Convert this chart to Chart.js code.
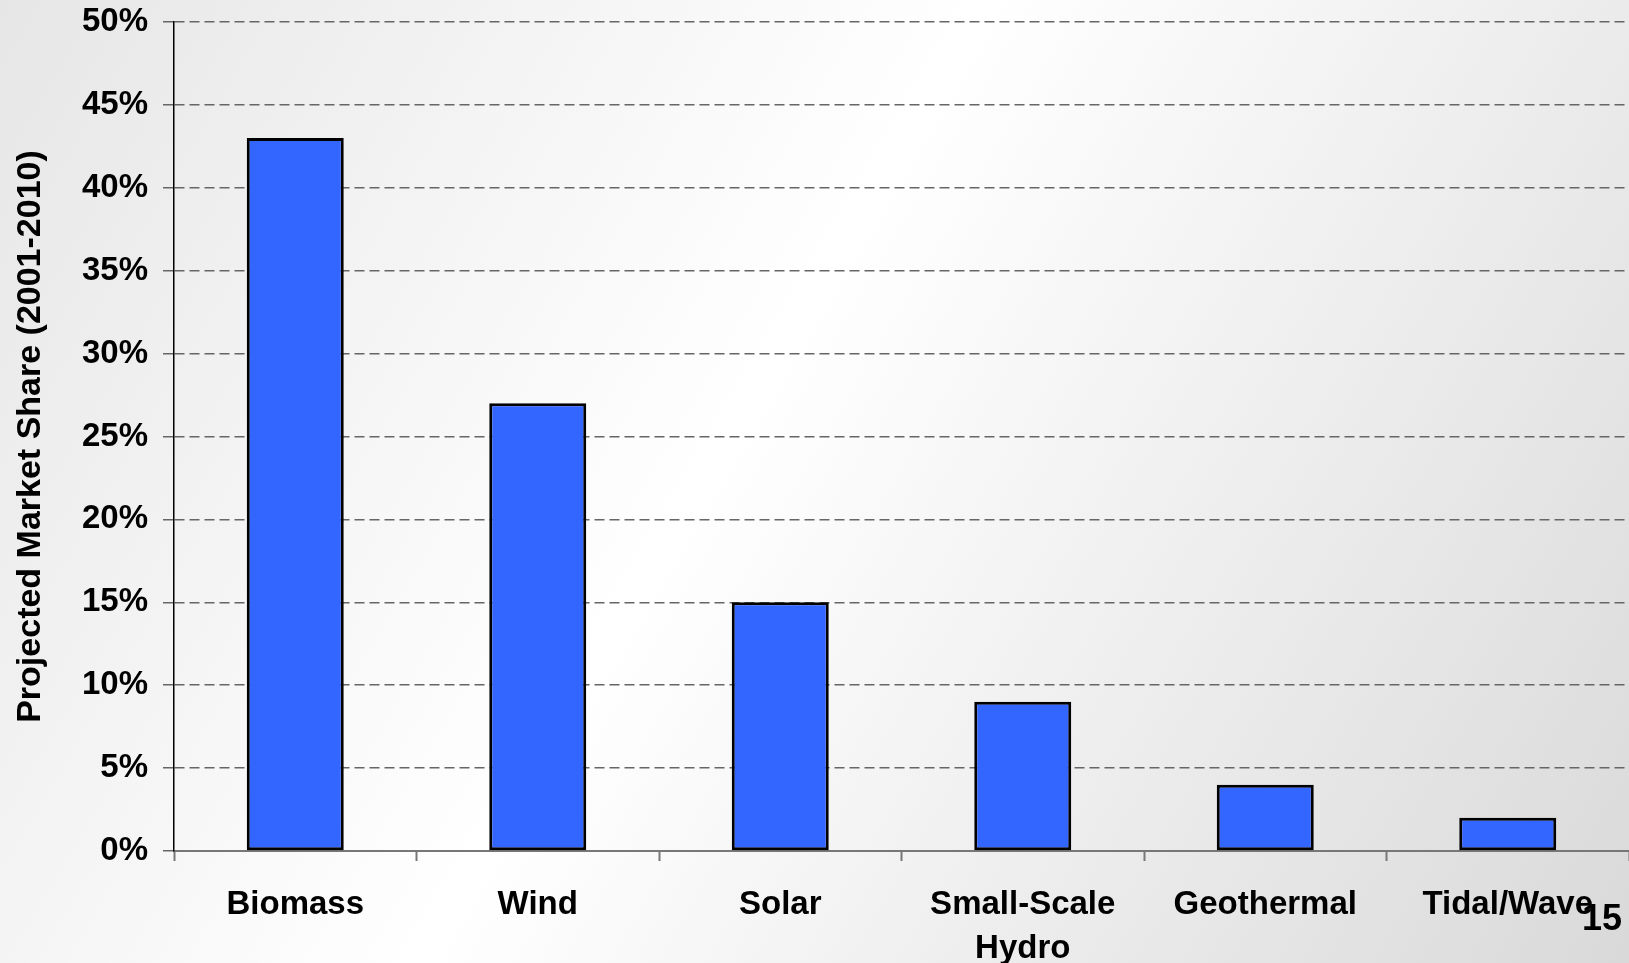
<!DOCTYPE html>
<html>
<head>
<meta charset="utf-8">
<title>Projected Market Share</title>
<script src="https://cdn.jsdelivr.net/npm/chart.js@4/dist/chart.umd.min.js"></script>
<style>
  html, body { margin: 0; padding: 0; background: #fff; }
  canvas { display: block; }
</style>
</head>
<body>
<canvas id="shareChart" width="1629" height="963"></canvas>
<script>
// Data
const categories = ['Biomass', 'Wind', 'Solar', ['Small-Scale', 'Hydro'], 'Geothermal', 'Tidal/Wave'];
const shareValues = [43, 27, 15, 9, 4, 2];
const yTicks = [0, 5, 10, 15, 20, 25, 30, 35, 40, 45, 50];
const yTitle = 'Projected Market Share (2001-2010)';
const pageNumber = '15';

const FONT = "'Liberation Sans', Arial, sans-serif";

// Slide-like grey/white diagonal background
const backgroundPlugin = {
    id: 'slideBackground',
    beforeDraw(chart) {
        const ctx = chart.ctx;
        const w = chart.width, h = chart.height;
        const grad = ctx.createLinearGradient(0, 0, w, h);
        grad.addColorStop(0, '#e6e6e6');
        grad.addColorStop(0.45, '#ffffff');
        grad.addColorStop(1, '#d9d9d9');
        ctx.save();
        ctx.fillStyle = grad;
        ctx.fillRect(0, 0, w, h);
        ctx.restore();
    }
};

// Slide page number in the bottom-right corner
const pageNumberPlugin = {
    id: 'pageNumber',
    afterDraw(chart) {
        const ctx = chart.ctx;
        ctx.save();
        ctx.font = 'bold 36px ' + FONT;
        ctx.fillStyle = '#000';
        ctx.textAlign = 'center';
        ctx.textBaseline = 'middle';
        ctx.fillText(pageNumber, 1602, 920);
        ctx.restore();
    }
};

const ctx = document.getElementById('shareChart').getContext('2d');
new Chart(ctx, {
    type: 'bar',
    data: {
        labels: categories,
        datasets: [{
            data: shareValues,
            backgroundColor: '#3366ff',
            borderColor: '#000000',
            borderWidth: 3,
            borderSkipped: false,
            barPercentage: 0.4,
            categoryPercentage: 1.0
        }]
    },
    options: {
        responsive: false,
        animation: false,
        layout: {
            padding: { top: 22, right: 0, bottom: 0, left: 0 }
        },
        plugins: {
            legend: { display: false },
            tooltip: { enabled: false },
            title: { display: false }
        },
        scales: {
            x: {
                grid: {
                    offset: true,
                    drawOnChartArea: false,
                    drawTicks: true,
                    tickLength: 10,
                    tickColor: '#777777',
                    tickWidth: 2
                },
                border: { color: '#777777', width: 2 },
                ticks: {
                    color: '#000',
                    padding: 22,
                    maxRotation: 0,
                    autoSkip: false,
                    font: { family: FONT, size: 33, weight: 'bold', lineHeight: 1.33 }
                },
                afterFit(scale) {
                    scale.height = 112;
                }
            },
            y: {
                min: 0,
                max: 50,
                afterBuildTicks(scale) {
                    scale.ticks = yTicks.map(v => ({ value: v }));
                },
                grid: {
                    color: '#666666',
                    lineWidth: 1.5,
                    drawTicks: true,
                    tickLength: 11,
                    tickColor: '#666666',
                    tickWidth: 1.5
                },
                border: { color: '#000000', width: 1.5, dash: [10, 5] },
                ticks: {
                    color: '#000',
                    padding: 15,
                    font: { family: FONT, size: 33, weight: 'bold', lineHeight: 1.3 },
                    callback: function(value) {
                        return value + '%';
                    }
                },
                title: {
                    display: true,
                    text: yTitle,
                    color: '#000',
                    padding: { top: 10, bottom: 0 },
                    font: { family: FONT, size: 34, weight: 'bold', lineHeight: 1.2 }
                },
                afterFit(scale) {
                    scale.width = 174;
                    scale.paddingTop = 0;
                }
            }
        }
    },
    plugins: [backgroundPlugin, pageNumberPlugin]
});
</script>
</body>
</html>
